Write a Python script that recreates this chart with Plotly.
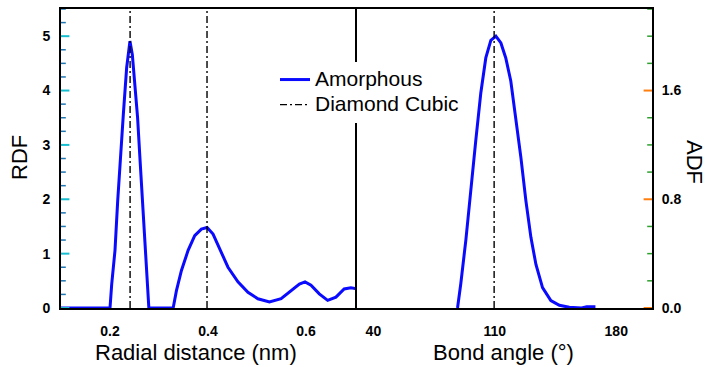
import numpy as np
import plotly.graph_objects as go

# Radial distribution function of the amorphous structure
rdf_r = [0.100, 0.150, 0.2000, 0.2035, 0.2102, 0.2157, 0.2211, 0.2272, 0.2340, 0.2407,
         0.2456, 0.2496, 0.2563, 0.2610, 0.2659, 0.2712, 0.2767, 0.2793, 0.3050, 0.3289,
         0.3356, 0.3458, 0.3594, 0.3729, 0.3865, 0.3981, 0.4103, 0.4237, 0.4408, 0.4611,
         0.4815, 0.5018, 0.5254, 0.5492, 0.5696, 0.5865, 0.5980, 0.6102, 0.6271, 0.6442,
         0.6611, 0.6779, 0.6916, 0.7051]
rdf_g = [0.0, 0.0, 0.0, 0.44, 1.06, 1.97, 2.77, 3.56, 4.42, 4.91,
         4.66, 4.23, 3.50, 2.77, 1.97, 1.12, 0.32, 0.0, 0.0, 0.0,
         0.32, 0.69, 1.06, 1.33, 1.45, 1.48, 1.36, 1.09, 0.75, 0.48,
         0.29, 0.17, 0.11, 0.17, 0.32, 0.44, 0.48, 0.42, 0.26, 0.14,
         0.20, 0.35, 0.37, 0.35]

# Bond angle distribution of the amorphous structure
adf_theta = [88.5, 90.4, 93.3, 96.2, 99.0, 101.9, 104.8, 107.7, 110.6, 113.5,
             116.3, 119.2, 122.1, 125.0, 127.9, 130.8, 133.7, 137.5, 142.3, 147.2,
             152.9, 160.0, 163.0, 168.0]
adf_p = [0.0, 0.18, 0.50, 0.89, 1.23, 1.58, 1.84, 1.97, 2.00, 1.95,
         1.84, 1.67, 1.40, 1.11, 0.79, 0.52, 0.32, 0.15, 0.055, 0.02,
         0.005, 0.0, 0.01, 0.01]

# Diamond cubic reference positions
dc_r = [0.241, 0.398]
dc_theta = [109.6]

# Axis ranges and tick spacing (major, minor)
r_range = [0.1, 0.7]
theta_range = [29.4, 200.6]
rdf_max = 5.5
adf_max = 2.2
r_ticks = (0.2, 0.05)
theta_ticks = (70, 17.5)
rdf_ticks = (1, 0.25)
adf_ticks = (0.8, 0.2)

FONT = "Liberation Sans"
BLUE = "#0a0aff"

L, R, T, B = 61, 57, 9, 59
W, H = 709, 367
pw = W - L - R
ph = H - T - B
split = (355 - L) / pw
left_w = split * pw
right_w = (1 - split) * pw


def big(s):
    return '<span style="font-size:21px">' + s + '</span>'


fig = go.Figure()

fig.add_trace(go.Scatter(
    x=rdf_r, y=rdf_g, mode="lines", name=big("Amorphous"),
    line=dict(color=BLUE, width=3), xaxis="x", yaxis="y",
    legendgroup="am", showlegend=True))
fig.add_trace(go.Scatter(
    x=adf_theta, y=adf_p, mode="lines", name=big("Amorphous"),
    line=dict(color=BLUE, width=3), xaxis="x2", yaxis="y2",
    legendgroup="am", showlegend=False))

dash = "7px,3px,2px,3px"
for i, r in enumerate(dc_r):
    fig.add_trace(go.Scatter(
        x=[r, r], y=[0, rdf_max], mode="lines", name=big("Diamond Cubic"),
        line=dict(color="black", width=1.4, dash=dash), xaxis="x", yaxis="y",
        legendgroup="dc", showlegend=(i == 0)))
for t in dc_theta:
    fig.add_trace(go.Scatter(
        x=[t, t], y=[0, adf_max], mode="lines", name=big("Diamond Cubic"),
        line=dict(color="black", width=1.4, dash=dash), xaxis="x2", yaxis="y2",
        legendgroup="dc", showlegend=False))


def tick_values(lo, hi, step, start):
    k0 = np.ceil((lo - start) / step - 1e-9)
    k1 = np.floor((hi - start) / step + 1e-9)
    return [round(start + k * step, 6) for k in np.arange(k0, k1 + 1)]


def split_ticks(lo, hi, major, minor, start):
    majors, minors = [], []
    for v in tick_values(lo, hi, minor, start):
        q = (v - start) / major
        (majors if abs(q - round(q)) < 1e-6 else minors).append(v)
    return majors, minors


def tick_marker_trace(xs, ys, xa, ya, symbol, length, width):
    return go.Scatter(
        x=xs, y=ys, mode="markers", xaxis=xa, yaxis=ya, cliponaxis=False,
        showlegend=False, hoverinfo="skip",
        marker=dict(symbol=symbol, size=length,
                    line=dict(color="black", width=width)))


# Tick marks below the x axes (outside), drawn as short line markers
for xa, ya, rng, ymax, spec, start in [
        ("x", "y", r_range, rdf_max, r_ticks, 0.0),
        ("x2", "y2", theta_range, adf_max, theta_ticks, 40.0)]:
    majors, minors = split_ticks(rng[0], rng[1], spec[0], spec[1], start)
    for vals, ln, lw in [(majors, 7, 2), (minors, 4, 1.5)]:
        yc = -(1 + ln / 2) / ph * ymax
        fig.add_trace(tick_marker_trace(vals, [yc] * len(vals), xa, ya,
                                        "line-ns-open", ln, lw))

# Tick marks inside the y axes
for xa, ya, xedge, span_px, sign, ymax, spec, rng in [
        ("x", "y", r_range[0], left_w, 1, rdf_max, rdf_ticks, r_range),
        ("x2", "y2", theta_range[1], right_w, -1, adf_max, adf_ticks, theta_range)]:
    majors, minors = split_ticks(0, ymax, spec[0], spec[1], 0.0)
    span = rng[1] - rng[0]
    for vals, ln, lw in [(majors, 7, 2), (minors, 4, 1.5)]:
        xc = xedge + sign * (ln / 2) / span_px * span
        fig.add_trace(tick_marker_trace([xc] * len(vals), vals, xa, ya,
                                        "line-ew-open", ln, lw))

tickfont = dict(family=FONT, size=14, color="black", weight="bold")
common = dict(showline=True, linewidth=2, linecolor="black", showgrid=False,
              zeroline=False, tickfont=tickfont, tickcolor="rgba(0,0,0,0)")

fig.update_layout(
    template="none",
    width=W, height=H,
    margin=dict(l=L, r=R, t=T, b=B),
    paper_bgcolor="white", plot_bgcolor="white",
    xaxis=dict(domain=[0, split], range=r_range, anchor="y", mirror=True,
               ticks="outside", ticklen=7, tickwidth=2, tick0=0, dtick=r_ticks[0],
               tickformat=".1f", ticklabelstandoff=2, **common),
    yaxis=dict(domain=[0, 1], range=[0, rdf_max], anchor="x", mirror=True,
               ticks="inside", ticklen=7, tickwidth=2, dtick=rdf_ticks[0],
               ticklabelstandoff=6, **common),
    xaxis2=dict(domain=[split, 1], range=theta_range, anchor="y2", mirror=True,
                ticks="outside", ticklen=7, tickwidth=2, tick0=40, dtick=theta_ticks[0],
                ticklabelstandoff=2, **common),
    yaxis2=dict(domain=[0, 1], range=[0, adf_max], anchor="x2", side="right",
                mirror=False, ticks="inside", ticklen=7, tickwidth=2,
                tick0=0, dtick=adf_ticks[0], tickformat=".1f", ticklabelstandoff=5,
                **common),
    legend=dict(x=(275 - L) / pw, y=1 - (62 - T) / ph,
                xanchor="left", yanchor="top", bgcolor="white",
                borderwidth=0, font=dict(family=FONT, size=17, color="black"),
                tracegroupgap=0, itemwidth=30),
    showlegend=True,
)


def px_x(px):
    return (px - L) / pw


def px_y(py):
    return 1 - (py - T) / ph


title_font = dict(family=FONT, size=22, color="black")
fig.add_annotation(text="RDF", x=px_x(19), y=px_y(158), xref="paper", yref="paper",
                   textangle=-90, showarrow=False, font=title_font,
                   xanchor="center", yanchor="middle")
fig.add_annotation(text="ADF", x=px_x(695), y=px_y(162), xref="paper", yref="paper",
                   textangle=90, showarrow=False, font=title_font,
                   xanchor="center", yanchor="middle")
fig.add_annotation(text="Radial distance (nm)", x=px_x(196), y=px_y(353),
                   xref="paper", yref="paper", showarrow=False, font=title_font,
                   xanchor="center", yanchor="middle")
fig.add_annotation(text="Bond angle (°)", x=px_x(503), y=px_y(353),
                   xref="paper", yref="paper", showarrow=False, font=title_font,
                   xanchor="center", yanchor="middle")

fig.write_html("out.html")
